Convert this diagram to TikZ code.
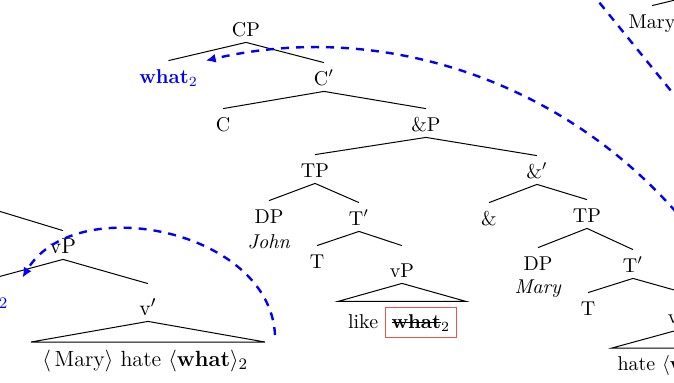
\documentclass[tikz,border=0pt]{standalone}
\usetikzlibrary{arrows.meta,calc}
\definecolor{boxred}{RGB}{240,80,80}
\newsavebox\strkbox
\newcommand{\strk}[1]{\sbox\strkbox{#1}\rlap{\rule[2.3pt]{\wd\strkbox}{0.6pt}}\usebox\strkbox}
\newcommand{\lefttreefont}{\fontsize{10.8}{13}\selectfont}
\newcommand{\leftleaffont}{\fontsize{11}{13}\selectfont}
\begin{document}
\begin{tikzpicture}[x=0.5pt,y=-0.5pt,
  cat/.style={anchor=base, inner xsep=0pt, inner ysep=3.2pt, outer sep=0pt, text height=8pt, text depth=0pt},
  roofhead/.style={cat, text height=12.5pt},
  leaf/.style={anchor=base, inner sep=0pt},
  lefttree/.style={font=\lefttreefont},
  branch/.style={line width=0.5pt},
  mvline/.style={blue, line width=1.2pt, dash pattern=on 4pt off 3.5pt},
  mv/.style={mvline, -{Latex[length=5pt,width=4.5pt]}},
]
\useasboundingbox (0,0) rectangle (674,382);
\clip (0,0) rectangle (674,382);
% main tree
\node[cat] (CP) at (246,36) {CP};
\node[cat, text=blue] (wh) at (168.5,83) {\textbf{what}$_2$};
\node[cat] (Cbar) at (324,85) {C$'$};
\node[cat] (C) at (223,131) {C};
\node[cat] (andP) at (426,131) {\&P};
\node[cat] (TP) at (315,177) {TP};
\node[cat] (andbar) at (537,178) {\&$'$};
\node[cat] (DP) at (269,223) {DP};
\node[leaf] (John) at (269,248) {\textit{John}};
\node[cat] (Tbar) at (359,225) {T$'$};
\node[cat] (T) at (317,268) {T};
\node[roofhead] (vP) at (402,277) {vP};
\node[leaf] (lk) at (402.5,328) {like \fcolorbox{boxred}{white}{\strk{\textbf{what}}$_2$}};
\node[cat] (and) at (489,225) {\&};
\node[cat] (TPb) at (587,222) {TP};
\node[cat] (DPb) at (538,270) {DP};
\node[leaf] (Maryb) at (538,293) {\textit{Mary}};
\node[cat] (Tbarb) at (633,272) {T$'$};
\node[cat] (Tb) at (588,315) {T};
\node[roofhead] (vPb) at (680,323) {vP};
\node[leaf] (hb) at (676.8,370) {hate $\langle$\textbf{what}$\rangle_2$};
% left tree
\coordinate (topL) at (-100,181);
\node[cat, lefttree] (vPL) at (63,253) {vP};
\node[cat, lefttree, text=blue] (whL) at (-23,305) {\textbf{what}$_2$};
\node[roofhead, lefttree] (vbarL) at (148,315) {v$'$};
\node[leaf, font=\leftleaffont] (hL) at (145.3,366) {$\langle$\,Mary$\rangle$ hate $\langle$\textbf{what}$\rangle_2$};
% top right
\node[cat] (MaryTR) at (652,28) {Mary};
\coordinate (topTR) at (700,-6);
\coordinate (trA) at (590,-9);
\coordinate (trB) at (680,102);
\coordinate (mvsrc) at (676,212);
% branches
\draw[branch] (CP.south) -- (wh.north) (CP.south) -- (Cbar.north);
\draw[branch] (Cbar.south) -- (C.north) (Cbar.south) -- (andP.north);
\draw[branch] (andP.south) -- (TP.north) (andP.south) -- (andbar.north);
\draw[branch] (TP.south) -- (DP.north) (TP.south) -- (Tbar.north);
\draw[branch] (Tbar.south) -- (T.north) (Tbar.south) -- (vP.north);
\draw[branch] (vP.south) -- ++(-64,18) -- ++(128,0) -- cycle;
\draw[branch] (andbar.south) -- (and.north) (andbar.south) -- (TPb.north);
\draw[branch] (TPb.south) -- (DPb.north) (TPb.south) -- (Tbarb.north);
\draw[branch] (Tbarb.south) -- (Tb.north) (Tbarb.south) -- (vPb.north);
\draw[branch] (vPb.south) -- ++(-68,18.6) -- ++(136,0) -- cycle;
\draw[branch] (topL) -- (vPL.north);
\draw[branch] (vPL.south) -- (whL.north) (vPL.south) -- (vbarL.north);
\draw[branch] (vbarL.south) -- ++(-117,20.6) coordinate (lcL) -- ++(234,0) coordinate (rcL) -- cycle;
\draw[branch] (MaryTR.north) -- (topTR);
% movement arrows
\draw[mv] (mvsrc) .. controls (560,80) and (380,20) .. ([xshift=4pt]wh.north east);
\draw[mv] ([shift={(10,-7)}]rcL) .. controls (270,230) and (75,190) .. ([shift={(14,-5)}]whL.north east);
\draw[mvline] (trA) -- (trB);
\end{tikzpicture}
\end{document}
